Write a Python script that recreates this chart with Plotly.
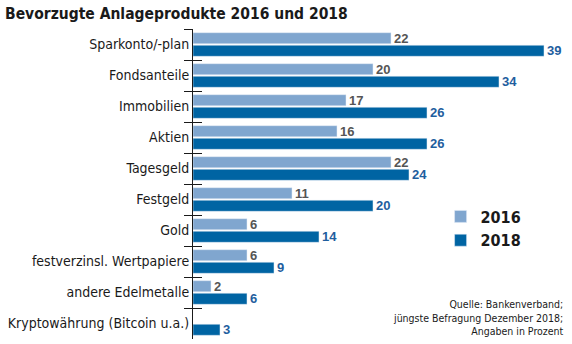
import plotly.graph_objects as go

categories = [
    "Sparkonto/-plan", "Fondsanteile", "Immobilien", "Aktien", "Tagesgeld",
    "Festgeld", "Gold", "festverzinsl. Wertpapiere", "andere Edelmetalle",
    "Kryptowährung (Bitcoin u.a.)",
]
values_2016 = [22, 20, 17, 16, 22, 11, 6, 6, 2, None]
values_2018 = [39, 34, 26, 26, 24, 20, 14, 9, 6, 3]

LIGHT = "#80A6CF"
DARK = "#0064A3"
FONT = "DejaVu Sans Condensed, Liberation Sans Narrow, sans-serif"
VALUE_FONT = "Liberation Sans, Arial, sans-serif"
n = len(categories)

fig = go.Figure()
fig.add_trace(go.Bar(
    y=categories, x=values_2016, orientation="h", name="2016",
    marker_color=LIGHT,
    text=[("" if v is None else str(v)) for v in values_2016],
    textposition="outside", cliponaxis=False, constraintext="none",
    textfont=dict(family=VALUE_FONT, size=13, color="#555555", weight="bold"),
))
fig.add_trace(go.Bar(
    y=categories, x=values_2018, orientation="h", name="2018",
    marker_color=DARK,
    text=[str(v) for v in values_2018],
    textposition="outside", cliponaxis=False, constraintext="none",
    textfont=dict(family=VALUE_FONT, size=13, color="#1F5E9E", weight="bold"),
))

# invisible helper on a numeric twin axis, used for the inner half of the boundary ticks
fig.add_trace(go.Scatter(
    y=list(range(n)), x=[0] * n, mode="markers",
    marker=dict(opacity=0), yaxis="y2", showlegend=False, hoverinfo="skip",
))

fig.update_layout(
    width=572, height=344,
    margin=dict(l=193, r=1, t=29, b=5),
    paper_bgcolor="white", plot_bgcolor="white",
    barmode="group", bargap=0.19, bargroupgap=0.12,
    font=dict(family=FONT, color="#1a1a1a"),
    title=dict(
        text="<b>Bevorzugte Anlageprodukte 2016 und 2018</b>",
        font=dict(family=FONT, size=15.5, color="#1a1a1a"),
        xref="container", x=5 / 572, xanchor="left",
        yref="container", y=1 - 14 / 344, yanchor="middle",
    ),
    xaxis=dict(range=[0, 42], visible=False, fixedrange=True),
    yaxis=dict(
        type="category", categoryorder="array", categoryarray=categories,
        autorange="reversed", showgrid=False, zeroline=False, automargin=False,
        showline=True, linecolor="#1a1a1a", linewidth=1,
        ticks="outside", ticklen=8, tickcolor="#1a1a1a", tickson="boundaries",
        tickfont=dict(family=FONT, size=14, color="#1a1a1a"),
        ticklabelstandoff=0,
    ),
    yaxis2=dict(
        type="linear", range=[n - 0.5, -0.5],
        overlaying="y", side="left", anchor="x",
        tickmode="array", tickvals=[i + 0.5 for i in range(n - 1)],
        showgrid=False, zeroline=False, showticklabels=False, automargin=False,
        ticks="inside", ticklen=9, tickcolor="#1a1a1a", tickwidth=1,
    ),
    legend=dict(
        x=0.655, y=0.45, xanchor="left", yanchor="top",
        font=dict(family=FONT, size=16, weight="bold", color="#1a1a1a"),
        tracegroupgap=0, bgcolor="rgba(0,0,0,0)",
    ),
    annotations=[dict(
        text="Quelle: Bankenverband;<br>jüngste Befragung Dezember 2018;<br>Angaben in Prozent",
        xref="paper", yref="paper", x=0.987, y=0.0, xanchor="right", yanchor="bottom",
        align="right", showarrow=False,
        font=dict(family=FONT, size=10.5, color="#1a1a1a"),
    )],
)

fig.write_html("out.html")
